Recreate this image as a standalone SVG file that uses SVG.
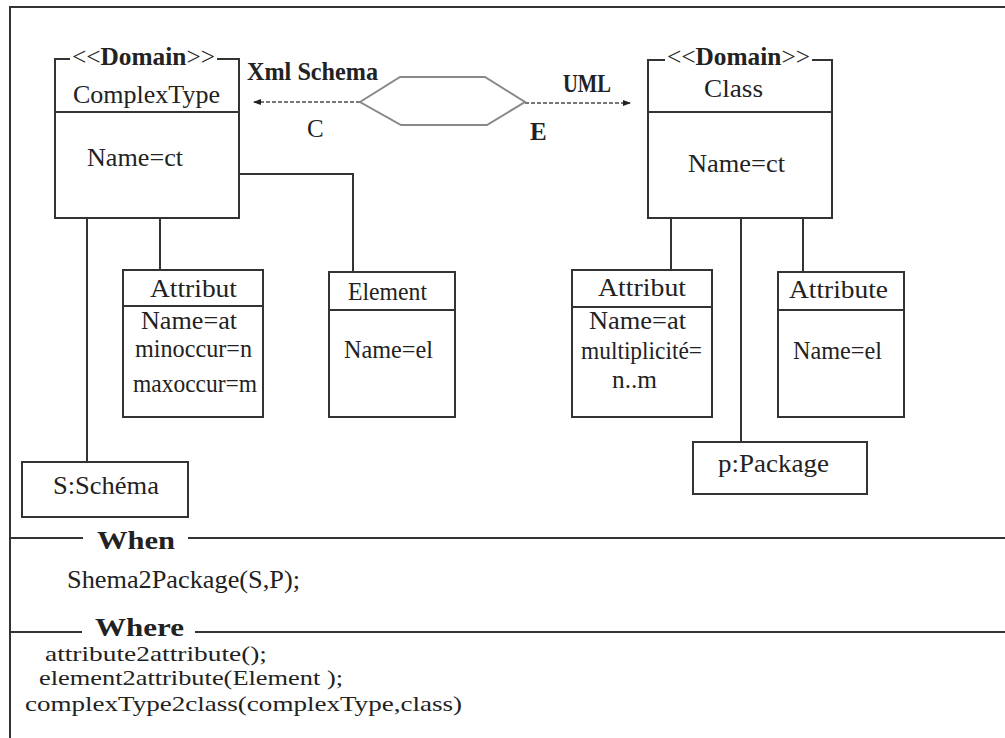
<svg xmlns="http://www.w3.org/2000/svg" width="1005" height="738" viewBox="0 0 1005 738">
  <style>
    .ln { stroke: #333; stroke-width: 2; fill: none; }
    .box { stroke: #333; stroke-width: 2; fill: #fff; }
    .t { font-family: "Liberation Serif", "DejaVu Serif", "Times New Roman", serif; font-size: 25px; fill: #222; }
    .b { font-weight: bold; }
    .sm { font-size: 21px; }
    .dash { stroke: #777; stroke-width: 2; stroke-dasharray: 4 2; fill: none; }
    .hex { stroke: #888; stroke-width: 2; fill: #fff; }
  </style>
  <defs>
    <marker id="head" viewBox="0 0 8 8" refX="7" refY="4" markerWidth="8" markerHeight="8" markerUnits="userSpaceOnUse" orient="auto">
      <path d="M0,1 L8,4 L0,7 Z" fill="#222"/>
    </marker>
  </defs>
  <rect width="1005" height="738" fill="#fff"/>

  <!-- outer frame and section rules -->
  <g id="frame">
    <path class="ln" d="M10,738 V7 H1005"/>
    <path class="ln" d="M10,538 H83 M188,538 H1005"/>
    <path class="ln" d="M10,632 H82 M195,632 H1005"/>
  </g>

  <!-- connectors -->
  <g id="connectors">
    <path class="ln" d="M87,218 V462"/>
    <path class="ln" d="M160,218 V270"/>
    <path class="ln" d="M239,174 H353 V272"/>
    <path class="ln" d="M671,218 V270"/>
    <path class="ln" d="M741,218 V442"/>
    <path class="ln" d="M803,218 V272"/>
    <path class="dash" d="M360,102 H254" marker-end="url(#head)"/>
    <path class="dash" d="M525,103 H630" marker-end="url(#head)"/>
  </g>

  <!-- transformation hexagon -->
  <g id="transform">
    <polygon class="hex" points="360,102 400,77 485,77 525,102 487,125 401,125"/>
    <text class="t b" x="247" y="80" font-size="20" textLength="131" lengthAdjust="spacingAndGlyphs">Xml Schema</text>
    <text class="t b" x="563" y="92" font-size="20" textLength="48" lengthAdjust="spacingAndGlyphs">UML</text>
    <text class="t" x="307" y="137" font-size="29">C</text>
    <text class="t b" x="530" y="140" font-size="29">E</text>
  </g>

  <!-- ComplexType -->
  <g id="complexType">
    <path class="ln" d="M70,59 H55 V218 H239 V59 H217 M55,112 H239"/>
    <text class="t" x="72" y="65" textLength="143" lengthAdjust="spacingAndGlyphs"><tspan>&lt;&lt;</tspan><tspan class="b">Domain</tspan><tspan>&gt;&gt;</tspan></text>
    <text class="t" x="73" y="103" textLength="147" lengthAdjust="spacingAndGlyphs">ComplexType</text>
    <text class="t" x="87" y="166" textLength="96" lengthAdjust="spacingAndGlyphs">Name=ct</text>
  </g>

  <!-- Attribut (schema side) -->
  <g id="attributXsd">
    <rect class="box" x="123" y="270" width="140" height="147"/>
    <path class="ln" d="M123,306 H263"/>
    <text class="t" x="150" y="297" textLength="87" lengthAdjust="spacingAndGlyphs">Attribut</text>
    <text class="t" x="141" y="329" textLength="96" lengthAdjust="spacingAndGlyphs">Name=at</text>
    <text class="t" x="135" y="357" textLength="117" lengthAdjust="spacingAndGlyphs">minoccur=n</text>
    <text class="t" x="133" y="392" textLength="124" lengthAdjust="spacingAndGlyphs">maxoccur=m</text>
  </g>

  <!-- Element -->
  <g id="element">
    <rect class="box" x="329" y="272" width="126" height="145"/>
    <path class="ln" d="M329,310 H455"/>
    <text class="t" x="348" y="300" textLength="79" lengthAdjust="spacingAndGlyphs">Element</text>
    <text class="t" x="344" y="358" textLength="89" lengthAdjust="spacingAndGlyphs">Name=el</text>
  </g>

  <!-- Schema instance -->
  <g id="schema">
    <rect class="box" x="22" y="462" width="166" height="55"/>
    <text class="t" x="53" y="494" textLength="106" lengthAdjust="spacingAndGlyphs">S:Schéma</text>
  </g>

  <!-- Class -->
  <g id="class">
    <path class="ln" d="M665,60 H648 V218 H832 V60 H812 M648,112 H832"/>
    <text class="t" x="667" y="65" textLength="143" lengthAdjust="spacingAndGlyphs"><tspan>&lt;&lt;</tspan><tspan class="b">Domain</tspan><tspan>&gt;&gt;</tspan></text>
    <text class="t" x="704" y="97" textLength="59" lengthAdjust="spacingAndGlyphs">Class</text>
    <text class="t" x="688" y="172" textLength="97" lengthAdjust="spacingAndGlyphs">Name=ct</text>
  </g>

  <!-- Attribut (UML side) -->
  <g id="attributUml">
    <rect class="box" x="572" y="270" width="140" height="147"/>
    <path class="ln" d="M572,307 H712"/>
    <text class="t" x="598" y="296" textLength="88" lengthAdjust="spacingAndGlyphs">Attribut</text>
    <text class="t" x="589" y="329" textLength="97" lengthAdjust="spacingAndGlyphs">Name=at</text>
    <text class="t" x="581" y="359" textLength="121" lengthAdjust="spacingAndGlyphs">multiplicité=</text>
    <text class="t" x="612" y="388" textLength="45" lengthAdjust="spacingAndGlyphs">n..m</text>
  </g>

  <!-- Attribute -->
  <g id="attribute">
    <rect class="box" x="778" y="272" width="126" height="145"/>
    <path class="ln" d="M778,310 H904"/>
    <text class="t" x="789" y="298" textLength="99" lengthAdjust="spacingAndGlyphs">Attribute</text>
    <text class="t" x="793" y="359" textLength="89" lengthAdjust="spacingAndGlyphs">Name=el</text>
  </g>

  <!-- Package instance -->
  <g id="package">
    <rect class="box" x="693" y="442" width="174" height="52"/>
    <text class="t" x="718" y="472" textLength="111" lengthAdjust="spacingAndGlyphs">p:Package</text>
  </g>

  <!-- When / Where clauses -->
  <g id="clauses">
    <text class="t b" x="97" y="549" font-size="28" textLength="78" lengthAdjust="spacingAndGlyphs">When</text>
    <text class="t" x="67" y="588" textLength="233" lengthAdjust="spacingAndGlyphs">Shema2Package(S,P);</text>
    <text class="t b" x="95" y="636" font-size="28" textLength="89" lengthAdjust="spacingAndGlyphs">Where</text>
    <text class="t sm" x="45" y="661" textLength="222" lengthAdjust="spacingAndGlyphs">attribute2attribute();</text>
    <text class="t sm" x="39" y="685" textLength="304" lengthAdjust="spacingAndGlyphs">element2attribute(Element );</text>
    <text class="t sm" x="25" y="711" textLength="437" lengthAdjust="spacingAndGlyphs">complexType2class(complexType,class)</text>
  </g>
</svg>
